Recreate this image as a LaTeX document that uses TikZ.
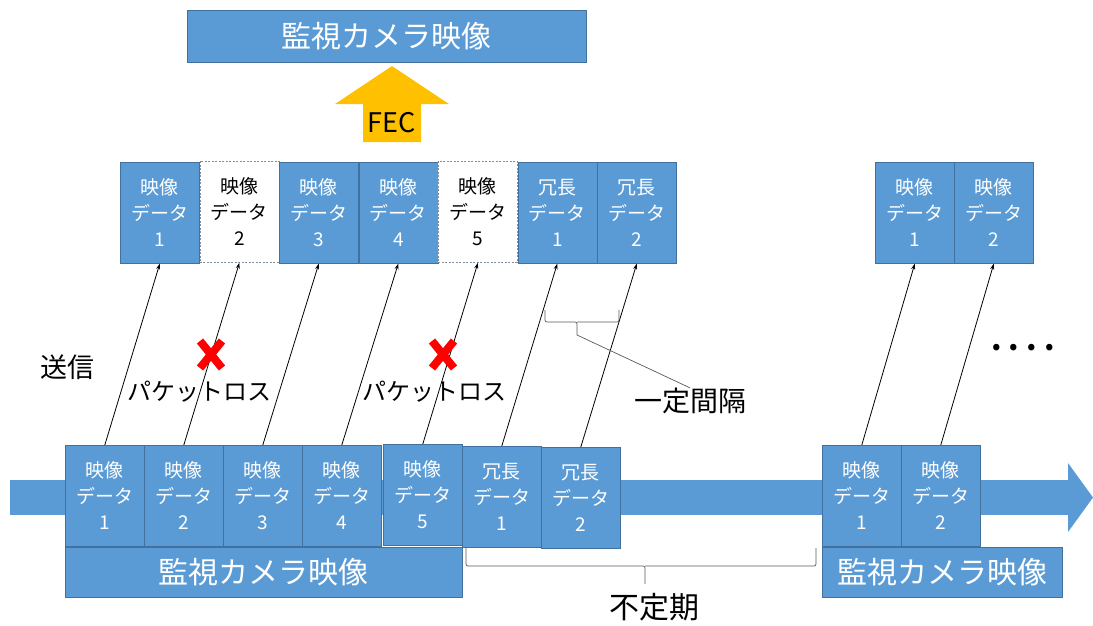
\documentclass[tikz,border=0pt]{standalone}
\usepackage{fontspec}
\setmainfont{Noto Sans CJK JP}
\usetikzlibrary{arrows.meta,calc}
\definecolor{bblue}{HTML}{5B9BD5}
\definecolor{bedge}{HTML}{41719C}
\definecolor{forange}{HTML}{FFC000}
\definecolor{lgray}{HTML}{595959}
\definecolor{dgray}{HTML}{7F8C99}
\begin{document}
\begin{tikzpicture}[x=1pt,y=-1pt,
  blk/.style={draw=bedge,fill=bblue,line width=0.6pt,minimum width=79pt,minimum height=101pt,
    text=white,font=\fontsize{19}{26}\selectfont,align=center,inner sep=0pt,anchor=north west},
  lost/.style={blk,fill=white,dashed,dash pattern=on 2pt off 1.5pt,draw=dgray,line width=0.8pt,text=black},
  lbl/.style={fill=bblue,draw=bedge,line width=0.6pt,text=white,font=\fontsize{30}{32}\selectfont,
    inner sep=0pt,anchor=north west,minimum height=50pt},
  snd/.style={-{Stealth[length=6pt,width=4pt]},line width=0.8pt,black},
  txt/.style={font=\fontsize{24}{26}\selectfont,inner sep=0pt},
  xmark/.style={red,line width=8pt}]
\useasboundingbox (0,0) rectangle (1093,625);
% title
\node[lbl,minimum width=399pt,minimum height=52pt] (title) at (187,10) {監視カメラ映像};
% FEC arrow
\fill[forange] (363,142) -- (363,104) -- (335,104) -- (392,66) -- (449,104) -- (421,104) -- (421,142) -- cycle;
\node[txt,font=\fontsize{27}{28}\selectfont] (fec) at (392,123) {FEC};
% band
\fill[bblue] (10,480) rectangle (1068,515);
\fill[bblue] (1068,463) -- (1093,497.5) -- (1068,532) -- cycle;
% top row
\node[blk] (t1) at (120,162) {映像\\データ\\1};
\node[lost] (t2) at (199.5,161) {映像\\データ\\2};
\node[blk] (t3) at (279,162) {映像\\データ\\3};
\node[blk] (t4) at (358.5,162) {映像\\データ\\4};
\node[lost] (t5) at (438,161) {映像\\データ\\5};
\node[blk] (t6) at (517.5,162) {冗長\\データ\\1};
\node[blk] (t7) at (597,162) {冗長\\データ\\2};
\node[blk] (t8) at (875,162) {映像\\データ\\1};
\node[blk] (t9) at (954,162) {映像\\データ\\2};
% bottom row
\node[blk] (b1) at (65,445) {映像\\データ\\1};
\node[blk] (b2) at (144,445) {映像\\データ\\2};
\node[blk] (b3) at (223,445) {映像\\データ\\3};
\node[blk] (b4) at (302,445) {映像\\データ\\4};
\node[blk] (b5) at (383,444) {映像\\データ\\5};
\node[blk] (b6) at (462,446) {冗長\\データ\\1};
\node[blk] (b7) at (541,447) {冗長\\データ\\2};
\node[blk] (b8) at (822,445) {映像\\データ\\1};
\node[blk] (b9) at (901,445) {映像\\データ\\2};
\node[lbl,minimum width=397pt] (l1) at (65,547) {監視カメラ映像};
\node[lbl,minimum width=240pt] (l2) at (822,547) {監視カメラ映像};
% transmissions
\foreach \i in {1,...,9} { \draw[snd] (b\i.north) -- (t\i.south); }
% packet loss marks
\draw[xmark] (200,341) -- (222,368) (222,341) -- (200,368);
\draw[xmark] (432,341) -- (454,368) (454,341) -- (432,368);
\node[txt] (loss1) at (199,392) {パケットロス};
\node[txt] (loss2) at (434,392) {パケットロス};
\node[txt,font=\fontsize{27}{28}\selectfont] (send) at (67,367) {送信};
% constant interval bracket
\coordinate (cb) at (577,335);
\draw[lgray,line width=0.7pt,rounded corners=2pt] (545,310) -- (545,322) -- (577,322) -- (cb) (577,322) -- (619,322) -- (619,310);
\node[txt,font=\fontsize{28}{30}\selectfont] (ival) at (690,401) {一定間隔};
\draw[lgray,line width=0.7pt] (cb) -- (ival.north);
% irregular bracket
\draw[lgray,line width=0.7pt,rounded corners=2pt] (466,548) -- (466,566) -- (645,566) -- (645,584) (645,566) -- (816,566) -- (816,548);
\node[txt,font=\fontsize{30}{32}\selectfont] (irr) at (654,607) {不定期};
% dots
\node[txt,font=\fontsize{30}{32}\selectfont\bfseries] (dots) at (1023,348) {.\hspace{7pt}.\hspace{7pt}.\hspace{7pt}.};
\end{tikzpicture}
\end{document}
